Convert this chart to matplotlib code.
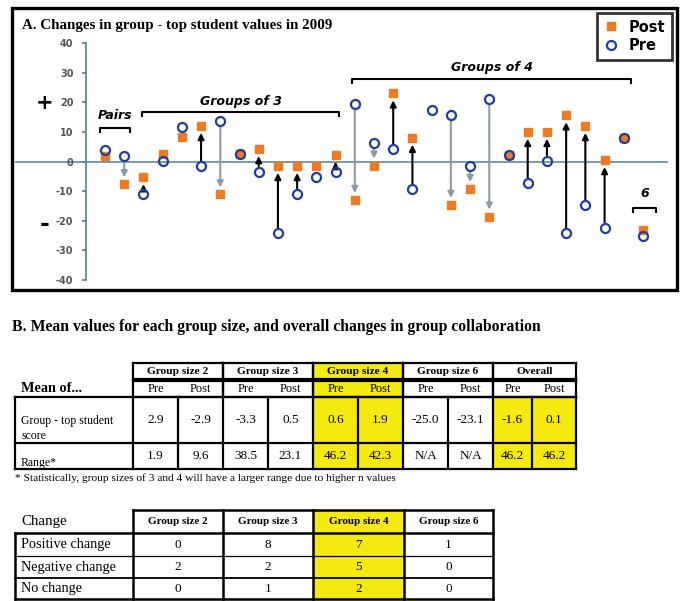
import numpy as np
import matplotlib
matplotlib.use('Agg')
from matplotlib import pyplot as plt
from matplotlib.patches import Rectangle

# chart A values, one per group (pairs, groups of 3, groups of 4, group of 6)
pre = [3.9, 2.0,
       -11.1, 0.3, 11.8, -1.5, 13.8, 2.4, -3.4, -24.3, -11.1, -5.3, -3.4,
       19.4, 6.3, 4.2, -9.3, 17.4, 15.6, -1.4, 21.2, 2.2, -7.4, 0.3, -24.3, -14.7, -22.4, 8.0,
       -25.0]
post = [1.9, -7.7,
        -5.3, 2.5, 8.2, 12.0, -11.1, 2.4, 4.2, -1.5, -1.5, -1.5, 2.2,
        -13.0, -1.4, 23.0, 8.0, np.nan, -14.7, -9.3, -18.6, 2.2, 10.0, 10.0, 15.6, 12.0, 0.5, 8.0,
        -23.1]
yticks = [-40, -30, -20, -10, 0, 10, 20, 30, 40]

# table 1
t1_groups = ['Group size 2', 'Group size 3', 'Group size 4', 'Group size 6', 'Overall']
t1_pre_score = ['2.9', '-3.3', '0.6', '-25.0', '-1.6']
t1_post_score = ['-2.9', '0.5', '1.9', '-23.1', '0.1']
t1_pre_range = ['1.9', '38.5', '46.2', 'N/A', '46.2']
t1_post_range = ['9.6', '23.1', '42.3', 'N/A', '46.2']

# table 2
t2_groups = ['Group size 2', 'Group size 3', 'Group size 4', 'Group size 6']
t2_rows = ['Positive change', 'Negative change', 'No change']
positive = [0, 8, 7, 1]
negative = [2, 2, 5, 0]
no_change = [0, 1, 2, 0]

ORANGE = '#f07a22'
BLUE = '#1f3f9e'
GREY = '#8c9ba6'
YELLOW = '#f4ea10'
AXC = '#4f8396'
SERIF = 'Liberation Serif'

W, H = 681, 601
fig = plt.figure(figsize=(W / 100, H / 100), dpi=100)

# overlay in pixel coordinates for boxes, titles and tables
bg = fig.add_axes([0, 0, 1, 1])
bg.set_xlim(0, W)
bg.set_ylim(H, 0)
bg.axis('off')

bg.add_patch(Rectangle((12, 8), 665, 282, fill=False, ec='black', lw=2.4, zorder=1))
bg.text(22, 26, 'A. Changes in group - top student values in 2009', family=SERIF,
        fontweight='bold', fontsize=10.8, va='center', ha='left')
bg.text(45, 103, '+', fontsize=15, fontweight='bold', ha='center', va='center')
bg.text(45, 224, '-', fontsize=17, fontweight='bold', ha='center', va='center')

# chart axes
x0, x1 = 105, 643
step = (x1 - x0) / (len(pre) - 1)
ax = fig.add_axes([15 / W, 1 - 280 / H, 653 / W, 237 / H])
ax.set_facecolor('none')
ax.set_xlim(-(x0 - 15) / step, len(pre) - 1 + (668 - x1) / step)
ax.set_ylim(-40, 40)
for s in ['top', 'right', 'bottom']:
    ax.spines[s].set_visible(False)
ax.spines['left'].set_position(('data', (86 - x0) / step))
ax.spines['left'].set_color(AXC)
ax.spines['left'].set_linewidth(1.2)
ax.set_xticks([])
ax.set_yticks(yticks)
ax.set_yticklabels([str(v) for v in yticks], fontsize=7, fontweight='bold', color='#555555')
ax.tick_params(axis='y', colors=AXC, length=3, width=1.2, labelcolor='#555555', pad=6)
ax.axhline(0, color=AXC, lw=1.3, alpha=0.85, zorder=1)

idx = np.arange(len(pre))
for i, a, b in zip(idx, pre, post):
    if np.isnan(b) or abs(b - a) <= 5:
        continue
    c = 'black' if b > a else GREY
    ax.annotate('', xy=(i, b), xytext=(i, a),
                arrowprops=dict(arrowstyle='-|>', color=c, lw=1.5, shrinkA=4, shrinkB=5,
                                mutation_scale=9), zorder=2)

ax.plot(idx, post, ls='none', marker='s', ms=6.2, mfc=ORANGE, mec=ORANGE, label='Post', zorder=3)
ax.plot(idx, pre, ls='none', marker='o', ms=6.5, mfc='none', mec=BLUE, mew=1.6, label='Pre', zorder=4)


def bracket(a, b, y, label, ly, dy=1.4):
    ax.plot([a, a, b, b], [y - dy, y, y, y - dy], color='black', lw=1.5, zorder=2)
    ax.text((a + b) / 2, ly, label, ha='center', va='center', fontsize=9,
            fontweight='bold', fontstyle='italic')


bracket(-0.26, 1.3, 11.3, 'Pairs', 15.6)
bracket(1.93, 12.2, 16.7, 'Groups of 3', 20.3)
bracket(12.85, 27.4, 27.9, 'Groups of 4', 31.6)
bracket(27.5, 28.7, -15.7, '6', -10.8)

leg = ax.legend(loc='upper right', bbox_to_anchor=(672 / W, 1 - 13 / H),
                bbox_transform=fig.transFigure, fancybox=False, edgecolor='black',
                prop=dict(weight='bold', size=10.5), handlelength=0.9, borderaxespad=0,
                handletextpad=0.8, labelspacing=0.25, borderpad=0.45)
leg.get_frame().set_linewidth(2)

# panel B
bg.text(12, 327, 'B. Mean values for each group size, and overall changes in group collaboration',
        family=SERIF, fontweight='bold', fontsize=11.3, va='center', ha='left')


def hline(xa, xb, y, lw=1.6):
    bg.plot([xa, xb], [y, y], color='black', lw=lw, solid_capstyle='projecting', zorder=3)


def vline(x, ya, yb, lw=1.6):
    bg.plot([x, x], [ya, yb], color='black', lw=lw, solid_capstyle='projecting', zorder=3)


def cell_text(x, y, s, size=9.5, bold=False, ha='center'):
    bg.text(x, y, s, family=SERIF, fontsize=size, fontweight='bold' if bold else 'normal',
            ha=ha, va='center', zorder=4)


# table 1
cx = [133, 178, 223, 268, 313, 358, 403, 448, 493, 532, 576]
r1 = [363, 379, 381, 397, 443, 469]
bg.add_patch(Rectangle((313, 363), 90, 106, color=YELLOW, lw=0, zorder=2))
bg.add_patch(Rectangle((493, 397), 83, 72, color=YELLOW, lw=0, zorder=2))
for g in range(5):
    a, b = cx[2 * g], cx[2 * g + 2]
    for ya, yb in [(r1[0], r1[1]), (r1[2], r1[3])]:
        hline(a, b, ya)
        hline(a, b, yb)
        vline(a, ya, yb)
        vline(b, ya, yb)
    cell_text((a + b) / 2, 371.5, t1_groups[g], size=8.2, bold=True)
    cell_text((a + cx[2 * g + 1]) / 2, 389, 'Pre', size=9)
    cell_text((cx[2 * g + 1] + b) / 2, 389, 'Post', size=9)
    cell_text((a + cx[2 * g + 1]) / 2, 420, t1_pre_score[g])
    cell_text((cx[2 * g + 1] + b) / 2, 420, t1_post_score[g])
    cell_text((a + cx[2 * g + 1]) / 2, 456, t1_pre_range[g])
    cell_text((cx[2 * g + 1] + b) / 2, 456, t1_post_range[g])
for y in [397, 443, 469]:
    hline(15, 576, y)
for x in [15] + cx:
    vline(x, 397, 469)
cell_text(21, 389, 'Mean of...', size=10.3, bold=True, ha='left')
cell_text(21, 421, 'Group - top student', size=8.5, ha='left')
cell_text(21, 436, 'score', size=8.5, ha='left')
cell_text(21, 463, 'Range*', size=8.5, ha='left')
cell_text(15, 478, '* Statistically, group sizes of 3 and 4 will have a larger range due to higher n values',
          size=8.2, ha='left')

# table 2
tx = [15, 133, 223, 313, 404, 493]
ty = [510, 533, 556, 578, 599]
bg.add_patch(Rectangle((313, 510), 91, 89, color=YELLOW, lw=0, zorder=2))
hline(133, 493, 510, lw=1.8)
hline(15, 493, 533, lw=1.8)
hline(15, 493, 556, lw=0.9)
hline(15, 493, 578, lw=1.3)
hline(15, 493, 599, lw=1.8)
vline(15, 533, 599, lw=1.8)
for x in tx[1:]:
    vline(x, 510, 599, lw=1.8)
cell_text(21, 522, 'Change', size=10.8, ha='left')
values = [positive, negative, no_change]
for j, g in enumerate(t2_groups):
    cell_text((tx[j + 1] + tx[j + 2]) / 2, 522, g, size=8, bold=True)
for r, name in enumerate(t2_rows):
    yc = (ty[r + 1] + ty[r + 2]) / 2
    cell_text(21, yc, name, size=10.3, ha='left')
    for j in range(4):
        cell_text((tx[j + 1] + tx[j + 2]) / 2, yc, str(values[r][j]))

fig.savefig('out.png', dpi=100)
